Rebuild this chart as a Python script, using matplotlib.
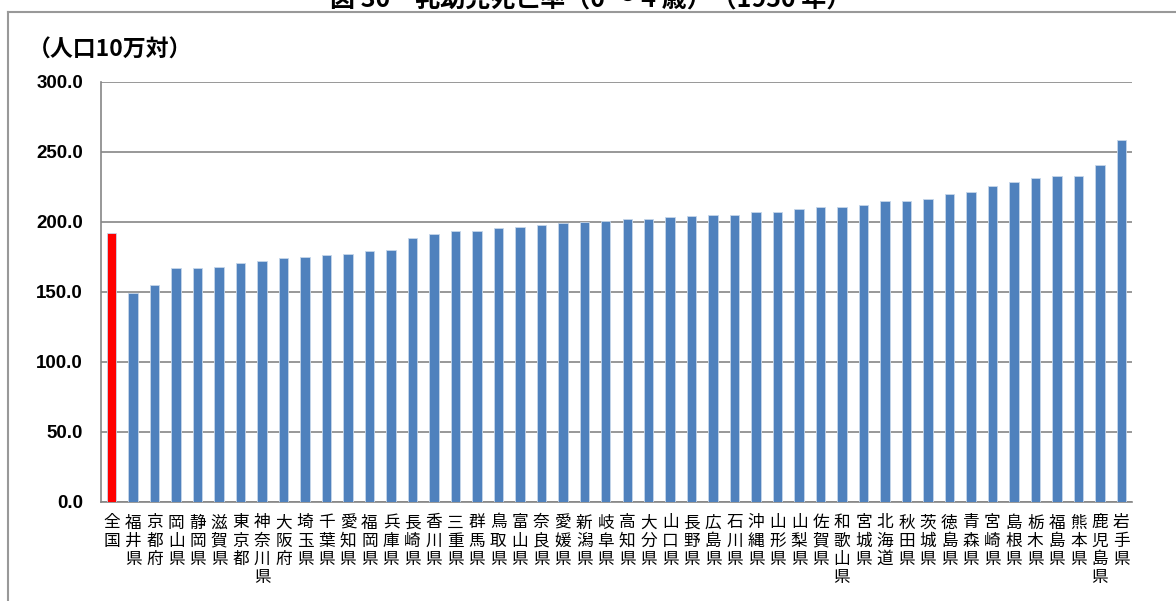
import matplotlib
matplotlib.use("Agg")
import matplotlib.pyplot as plt
from matplotlib.lines import Line2D

plt.rcParams['font.family'] = ['Noto Sans CJK JP', 'DejaVu Sans']

# 乳幼児死亡率（0～4歳）1950年、人口10万対
regions = ["全国", "福井県", "京都府", "岡山県", "静岡県", "滋賀県", "東京都", "神奈川県",
           "大阪府", "埼玉県", "千葉県", "愛知県", "福岡県", "兵庫県", "長崎県", "香川県",
           "三重県", "群馬県", "鳥取県", "富山県", "奈良県", "愛媛県", "新潟県", "岐阜県",
           "高知県", "大分県", "山口県", "長野県", "広島県", "石川県", "沖縄県", "山形県",
           "山梨県", "佐賀県", "和歌山県", "宮城県", "北海道", "秋田県", "茨城県", "徳島県",
           "青森県", "宮崎県", "島根県", "栃木県", "福島県", "熊本県", "鹿児島県", "岩手県"]
rates = [191.9, 149.0, 155.0, 166.9, 167.1, 167.9, 171.0, 171.9,
         174.0, 175.2, 176.4, 177.1, 179.5, 180.0, 188.3, 191.6,
         193.3, 193.7, 195.5, 196.2, 197.9, 199.0, 200.2, 201.0,
         201.9, 202.4, 203.8, 204.3, 204.8, 205.0, 207.1, 207.2,
         209.3, 210.8, 210.9, 211.9, 215.2, 215.3, 216.7, 220.2,
         221.7, 225.5, 228.3, 231.2, 232.6, 233.1, 240.7, 258.6]
yticks = [0, 50, 100, 150, 200, 250, 300]
title = "図 30　乳幼児死亡率（0 ～ 4 歳）（1950 年）"
unit_label = "（人口10万対）"

W, H = 1176, 601
fig = plt.figure(figsize=(W / 100, H / 100), dpi=100)
ax = fig.add_axes([101 / W, 1 - 502 / H, (1132 - 101) / W, (502 - 82) / H])

grid_color = "#868686"
colors = ["#FF0000"] + ["#4F81BD"] * (len(regions) - 1)
x = list(range(len(regions)))
ax.bar(x, rates, width=0.44, color=colors, edgecolor="#C6D6EA", linewidth=0.6, zorder=3)

ax.set_xlim(-0.5, len(regions) - 0.5)
ax.set_ylim(0, 300)
ax.set_yticks(yticks)
ax.set_yticklabels([f"{v:.1f}" for v in yticks], family="Liberation Sans",
                   fontweight="bold", fontsize=13.5)
ax.yaxis.grid(True, color=grid_color, linewidth=1.2, zorder=0)
ax.set_axisbelow(True)
ax.tick_params(axis="y", length=0, pad=13)
ax.tick_params(axis="x", length=0, pad=9)
ax.set_xticks(x)
ax.set_xticklabels(["\n".join(r) for r in regions], fontsize=12,
                   va="top", linespacing=1.1)

for side in ("top", "right"):
    ax.spines[side].set_visible(False)
for side in ("left", "bottom"):
    ax.spines[side].set_color(grid_color)
    ax.spines[side].set_linewidth(1.2)

# unit label above the value axis
fig.text(28 / W, 1 - 50 / H, unit_label, fontsize=16.5, fontweight="bold",
         ha="left", va="center")

# heading, mostly above the top edge of the page
fig.text(591 / W, 1 - 7 / H, title, fontsize=18, fontweight="bold",
         ha="center", va="baseline")

# page frame lines
fig.add_artist(Line2D([8 / W, 1.0], [1 - 11.5 / H, 1 - 11.5 / H],
                      transform=fig.transFigure, color="#999999", linewidth=1.5))
fig.add_artist(Line2D([8 / W, 8 / W], [0, 1 - 11.5 / H],
                      transform=fig.transFigure, color="#999999", linewidth=1.5))

fig.savefig("out.png", dpi=100)
